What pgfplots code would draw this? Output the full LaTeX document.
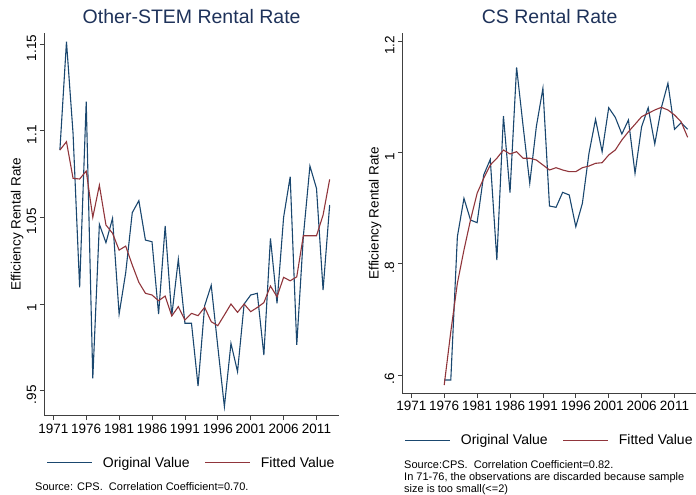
\documentclass[border=0pt]{standalone}
\usepackage{fontspec}
\setmainfont{Liberation Sans}
\usepackage{pgfplots}
\pgfplotsset{compat=1.18}
\definecolor{sblue}{RGB}{26,71,111}
\definecolor{sred}{RGB}{144,53,59}
\definecolor{stitle}{RGB}{30,50,90}

\pgfplotstableread{
year orig fit
1972 1.0888 1.0888
1973 1.1513 1.0936
1974 1.0984 1.0725
1975 1.0096 1.0721
1976 1.1167 1.0767
1977 0.9571 1.0500
1978 1.0460 1.0685
1979 1.0354 1.0456
1980 1.0494 1.0408
1981 0.9942 1.0311
1982 1.0180 1.0334
1983 1.0527 1.0225
1984 1.0596 1.0125
1985 1.0369 1.0062
1986 1.0359 1.0052
1987 0.9942 1.0019
1988 1.0450 1.0046
1989 0.9931 0.9931
1990 1.0258 0.9985
1991 0.9889 0.9908
1992 0.9889 0.9946
1993 0.9527 0.9933
1994 0.9990 0.9981
1995 1.0108 0.9898
1996 0.9754 0.9875
1997 0.9408 0.9937
1998 0.9773 1.0000
1999 0.9610 0.9952
2000 1.0000 1.0000
2001 1.0052 0.9956
2002 1.0062 0.9980
2003 0.9706 1.0008
2004 1.0379 1.0104
2005 1.0004 1.0042
2006 1.0500 1.0154
2007 1.0734 1.0134
2008 0.9764 1.0157
2009 1.0390 1.0394
2010 1.0796 1.0394
2011 1.0667 1.0394
2012 1.0081 1.0513
2013 1.0571 1.0719
}\stemdata

\pgfplotstableread{
year orig fit
1976 0.5908 0.5818
1977 0.5908 0.6778
1978 0.8488 0.7649
1979 0.9179 0.8248
1980 0.8788 0.8790
1981 0.8740 0.9269
1982 0.9599 0.9539
1983 0.9880 0.9779
1984 0.8069 0.9900
1985 1.0660 1.0049
1986 0.9280 0.9977
1987 1.1537 1.0018
1988 1.0470 0.9900
1989 0.9449 0.9900
1990 1.0468 0.9869
1991 1.1159 0.9779
1992 0.9040 0.9689
1993 0.9017 0.9730
1994 0.9287 0.9689
1995 0.9239 0.9659
1996 0.8668 0.9659
1997 0.9089 0.9730
1998 0.9989 0.9760
1999 1.0601 0.9809
2000 1.0018 0.9820
2001 1.0810 0.9959
2002 1.0637 1.0049
2003 1.0337 1.0229
2004 1.0589 1.0378
2005 0.9629 1.0511
2006 1.0468 1.0648
2007 1.0810 1.0709
2008 1.0157 1.0769
2009 1.0810 1.0817
2010 1.1250 1.0769
2011 1.0421 1.0679
2012 1.0540 1.0558
2013 1.0421 1.0277
}\csdata

\pgfplotsset{
  common/.style={
    scale only axis, width=294.7pt,
    axis x line*=bottom, axis y line*=left,
    axis line style={black!75, line width=0.8pt},
    tick align=outside, major tick length=4.5pt,
    tick style={black!75, line width=0.8pt},
    xmin=1969.63, xmax=2014.42,
    xtick={1971,1976,...,2011},
    /pgf/number format/assume math mode=true,
    xticklabel style={/pgf/number format/1000 sep=, font=\fontsize{13.5}{14}\selectfont},
    yticklabel style={rotate=90, anchor=south, xshift=-4pt, font=\fontsize{13.5}{14}\selectfont},
    ylabel={Efficiency Rental Rate},
    ylabel style={at={(axis description cs:-0.092,0.5)}, anchor=center, font=\fontsize{13.5}{14}\selectfont},
    title style={at={(axis description cs:0.5,1)}, anchor=center, yshift=10pt, font=\fontsize{19.5}{21}\selectfont, color=stitle},
    legend style={at={(axis description cs:0.5,0)}, anchor=center, yshift=-47pt, draw=none, fill=none,
      font=\fontsize{14}{15}\selectfont, legend columns=2,
      /tikz/every odd column/.append style={column sep=8pt},
      /tikz/every even column/.append style={column sep=13pt}},
    legend image code/.code={\draw[##1] (0pt,0pt) -- (45pt,0pt);},
  },
  orig/.style={sblue, line width=1.1pt, no marks},
  fit/.style={sred, line width=1.1pt, no marks},
}

\begin{document}
\begin{tikzpicture}
\useasboundingbox (0,0) rectangle (696pt,495pt);
\begin{axis}[common, at={(44.3pt,79.3pt)}, anchor=south west, height=382.7pt,
  ymin=0.9356, ymax=1.1563,
  ytick={0.95,1,1.05,1.1,1.15}, yticklabels={.95,1,1.05,1.1,1.15},
  title={Other-STEM Rental Rate}]
\addplot[orig] table[x=year,y=orig]{\stemdata};
\addplot[fit] table[x=year,y=fit]{\stemdata};
\legend{Original Value, Fitted Value}
\end{axis}
\begin{axis}[common, at={(402.3pt,101.7pt)}, anchor=south west, height=360.3pt,
  ymin=0.5669, ymax=1.2155,
  ytick={0.6,0.8,1,1.2}, yticklabels={.6,.8,1,1.2},
  title={CS Rental Rate}]
\addplot[orig] table[x=year,y=orig]{\csdata};
\addplot[fit] table[x=year,y=fit]{\csdata};
\legend{Original Value, Fitted Value}
\end{axis}
\node[anchor=west, font=\fontsize{11}{12.5}\selectfont, inner sep=0pt] at (35pt,8pt) {Source: CPS.\ \ Correlation Coefficient=0.70.};
\node[anchor=north west, align=left, font=\fontsize{11}{12}\selectfont, inner sep=0pt] at (404pt,35pt) {Source:CPS.\ \ Correlation Coefficient=0.82.\\In 71-76, the observations are discarded because sample\\size is too small(<=2)};
\end{tikzpicture}
\end{document}
